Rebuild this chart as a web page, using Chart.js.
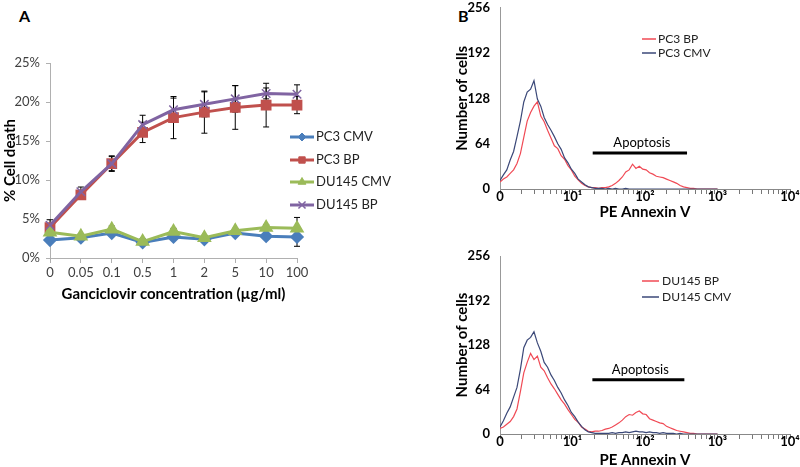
<!DOCTYPE html>
<html>
<head>
<meta charset="utf-8">
<script src="https://cdn.jsdelivr.net/npm/chart.js@4.4.1/dist/chart.umd.min.js"></script>
<style>
  body { margin: 0; background: #fff; width: 800px; height: 467px; overflow: hidden; position: relative; font-family: Lato, sans-serif; }
  .panel { position: absolute; }
  .tag { position: absolute; font: bold 16px Lato, sans-serif; line-height: 16px; color: #000; }
</style>
</head>
<body>
<div class="tag" style="left:19px;top:8px">A</div>
<div class="tag" style="left:458px;top:8px">B</div>
<div class="panel" style="left:0;top:0"><canvas id="chartA" width="440" height="467"></canvas></div>
<div class="panel" style="left:440px;top:-10px"><canvas id="chartB1" width="360" height="240"></canvas></div>
<div class="panel" style="left:440px;top:230px"><canvas id="chartB2" width="360" height="260"></canvas></div>
<script>
// ---- panel A: % cell death vs ganciclovir ----
const concentrations = ["0", "0.05", "0.1", "0.5", "1", "2", "5", "10", "100"];
const pc3Cmv = [2.3, 2.6, 3.2, 2.0, 2.7, 2.4, 3.2, 2.8, 2.7];
const pc3Bp = [3.9, 8.1, 12.1, 16.1, 18.0, 18.7, 19.3, 19.6, 19.6];
const du145Cmv = [3.3, 2.8, 3.7, 2.1, 3.4, 2.6, 3.5, 3.9, 3.8];
const du145Bp = [4.2, 8.5, 12.1, 17.1, 19.0, 19.7, 20.4, 21.1, 21.0];
const pc3CmvErr = [0.3, 0.3, 0.3, 0.2, 0.3, 0.3, 0.3, 0.4, 1.2];
const pc3BpErr = [0.4, 0.5, 0.9, 1.3, 2.7, 2.7, 2.8, 2.8, 1.1];
const du145CmvErr = [0.3, 0.3, 0.4, 0.3, 0.4, 0.3, 0.3, 0.4, 1.4];
const du145BpErr = [0.7, 0.6, 1.0, 1.2, 1.5, 1.6, 1.7, 0.7, 1.2];

// ---- panel B: flow cytometry histograms (log channels, 64 per decade) ----
const channels = [
  0, 3, 6, 9, 12, 15, 18, 21, 24, 27, 30, 33, 36, 39, 42, 45, 48, 51, 54, 57,
  60, 63, 66, 69, 72, 75, 78, 81, 84, 87, 90, 93, 96, 99, 102, 105, 108, 111, 114, 117,
  120, 123, 126, 129, 132, 135, 138, 141, 144, 147, 150, 153, 156, 159, 162, 165, 168, 171, 174, 177,
  180, 183, 186, 189, 192,
];
const pc3BpCounts = [
  10, 14, 17, 22, 27, 36, 50, 73, 96, 108, 117, 123, 103, 95, 83, 72, 61, 57, 47, 42,
  33, 27, 18, 13, 8, 5, 3, 2, 2, 1, 2, 2, 3, 5, 8, 12, 17, 24, 27, 35,
  29, 32, 28, 27, 23, 21, 18, 17, 16, 14, 12, 10, 8, 5, 3, 2, 1, 1, 0, 0,
  0, 0, 0, 0, 0,
];
const pc3CmvCounts = [
  12, 20, 27, 41, 53, 74, 96, 123, 137, 141, 153, 127, 117, 101, 91, 83, 74, 64, 56, 44,
  37, 28, 22, 14, 10, 6, 3, 2, 1, 1, 1, 0, 1, 0, 1, 0, 0, 1, 0, 0,
  0, 0, 0, 0, 0, 0, 0, 0, 0, 0, 0, 0, 0, 0, 0, 0, 0, 0, 0, 0,
  0, 0, 0, 0, 0,
];
const du145BpCounts = [
  8, 10, 14, 18, 25, 36, 61, 88, 103, 116, 107, 112, 96, 91, 81, 72, 65, 57, 49, 43,
  35, 28, 21, 17, 10, 7, 4, 3, 4, 4, 5, 7, 8, 10, 13, 16, 20, 25, 28, 27,
  31, 33, 29, 28, 22, 20, 18, 16, 15, 11, 9, 7, 5, 4, 3, 2, 1, 1, 0, 0,
  0, 0, 0, 0, 0,
];
const du145CmvCounts = [
  10, 19, 30, 39, 53, 67, 93, 124, 135, 139, 147, 131, 119, 103, 96, 85, 77, 67, 59, 49,
  41, 31, 25, 17, 11, 6, 3, 2, 1, 1, 1, 1, 1, 2, 1, 2, 2, 3, 2, 3,
  4, 3, 3, 2, 3, 2, 2, 1, 2, 1, 1, 1, 0, 1, 0, 0, 0, 0, 0, 0,
  0, 0, 0, 0, 0,
];
const decadeLabels = ["0", "10\u00b9", "10\u00b2", "10\u00b3", "10\u2074"];
const gatePc3 = { from: 19, to: 380, count: 51 };
const gateDu145 = { from: 18.8, to: 349, count: 78 };

const FONT = "Lato, sans-serif";

function histPoints(counts) {
  return channels.map((ch, i) => ({ x: Math.pow(10, ch / 64), y: counts[i] }));
}

const errorBars = {
  id: "errorBars",
  beforeDatasetsDraw(chart) {
    const ctx = chart.ctx;
    const xs = chart.scales.x, ys = chart.scales.y;
    ctx.save();
    ctx.strokeStyle = "#000";
    ctx.lineWidth = 1;
    chart.data.datasets.forEach((ds) => {
      if (!ds.errors) return;
      ds.data.forEach((v, i) => {
        const px = xs.getPixelForValue(i);
        const top = ys.getPixelForValue(v + ds.errors[i]);
        const bot = ys.getPixelForValue(v - ds.errors[i]);
        ctx.beginPath();
        ctx.moveTo(px, top); ctx.lineTo(px, bot);
        ctx.moveTo(px - 3, top); ctx.lineTo(px + 3, top);
        ctx.moveTo(px - 3, bot); ctx.lineTo(px + 3, bot);
        ctx.stroke();
      });
    });
    ctx.restore();
  },
};

// legend drawn at fixed spot, colours taken from the datasets
function placedLegend(entries, x0, x1, textX, fontSize, markers) {
  return {
    id: "placedLegend",
    afterDraw(chart) {
      const ctx = chart.ctx;
      ctx.save();
      entries.forEach((e) => {
        const ds = chart.data.datasets[e.ds];
        ctx.strokeStyle = ds.borderColor;
        ctx.lineWidth = markers ? 3 : 1.5;
        ctx.beginPath();
        ctx.moveTo(x0, e.y);
        ctx.lineTo(x1, e.y);
        ctx.stroke();
        if (markers) {
          ctx.fillStyle = ds.borderColor;
          ctx.lineWidth = ds.pointBorderWidth || 1;
          Chart.helpers.drawPoint(ctx, {
            pointStyle: ds.pointStyle,
            radius: ds.pointRadius - 1,
            borderWidth: ds.pointBorderWidth || 1,
            rotation: 0,
          }, (x0 + x1) / 2, e.y);
        }
        ctx.fillStyle = "#222";
        ctx.font = fontSize + "px " + FONT;
        ctx.textAlign = "left";
        ctx.textBaseline = "middle";
        ctx.fillText(ds.label, textX, e.y);
      });
      ctx.restore();
    },
  };
}

const gateLabel = {
  id: "gateLabel",
  afterDatasetsDraw(chart) {
    const ds = chart.data.datasets[2];
    const xs = chart.scales.x, ys = chart.scales.y;
    const a = xs.getPixelForValue(ds.data[0].x);
    const b = xs.getPixelForValue(ds.data[1].x);
    const y = ys.getPixelForValue(ds.data[0].y);
    const ctx = chart.ctx;
    ctx.save();
    ctx.fillStyle = "#000";
    ctx.font = "13px " + FONT;
    ctx.textAlign = "center";
    ctx.textBaseline = "middle";
    ctx.fillText("Apoptosis", (a + b) / 2 + 2, y - 10);
    ctx.restore();
  },
};

new Chart("chartA", {
  type: "line",
  data: {
    labels: concentrations,
    datasets: [
      {
        label: "PC3 CMV", data: pc3Cmv, errors: pc3CmvErr, order: 3,
        borderColor: "#4a7ebb", backgroundColor: "#4a7ebb", pointBackgroundColor: "#4a7ebb",
        borderWidth: 3, pointStyle: "rectRot", pointRadius: 5,
      },
      {
        label: "PC3 BP", data: pc3Bp, errors: pc3BpErr, order: 2,
        borderColor: "#c0504d", backgroundColor: "#c0504d", pointBackgroundColor: "#c0504d",
        borderWidth: 3, pointStyle: "rect", pointRadius: 5.5,
      },
      {
        label: "DU145 CMV", data: du145Cmv, errors: du145CmvErr, order: 1,
        borderColor: "#9bbb59", backgroundColor: "#9bbb59", pointBackgroundColor: "#9bbb59",
        borderWidth: 3, pointStyle: "triangle", pointRadius: 5.5,
      },
      {
        label: "DU145 BP", data: du145Bp, errors: du145BpErr, order: 0,
        borderColor: "#8064a2", backgroundColor: "#8064a2", pointBackgroundColor: "#8064a2",
        borderWidth: 3, pointStyle: "crossRot", pointRadius: 6, pointBorderWidth: 1.5,
      },
    ],
  },
  options: {
    responsive: false,
    animation: false,
    layout: { padding: { left: 0, top: 63, right: 143, bottom: 159 } },
    plugins: { legend: { display: false }, tooltip: { enabled: false } },
    scales: {
      x: {
        offset: false,
        afterFit: (s) => { s.height = 50; },
        border: { color: "#b0b0b0" },
        grid: { drawOnChartArea: false, tickLength: 5, color: "#b0b0b0" },
        ticks: { padding: 2, maxRotation: 0, color: "#404040", font: { family: FONT, size: 13 } },
        title: {
          display: true, text: "Ganciclovir concentration (\u00b5g/ml)", color: "#000",
          font: { family: FONT, size: 15, weight: "bold" }, padding: { top: 0, bottom: 5 },
        },
      },
      y: {
        min: 0, max: 25,
        afterFit: (s) => { s.width = 50; },
        border: { color: "#b0b0b0" },
        grid: { drawOnChartArea: false, tickLength: 4, color: "#b0b0b0" },
        ticks: {
          stepSize: 5, padding: 6, color: "#404040", font: { family: FONT, size: 13 },
          callback: (v) => v + "%",
        },
        title: {
          display: true, text: "% Cell death", color: "#000",
          font: { family: FONT, size: 15, weight: "bold" }, padding: { top: 1, bottom: 0 },
        },
      },
    },
  },
  plugins: [
    errorBars,
    placedLegend(
      [{ ds: 0, y: 137 }, { ds: 1, y: 160 }, { ds: 2, y: 182 }, { ds: 3, y: 205 }],
      290, 314, 316, 13, true
    ),
  ],
});

function histogram(id, bp, cmv, gate, box, legendEntries, legendLine, legendTextX) {
  return new Chart(id, {
    type: "line",
    data: {
      datasets: [
        {
          label: bp.label, data: histPoints(bp.counts), order: 1,
          borderColor: "#f04a55", borderWidth: 1.2, pointRadius: 0, tension: 0,
        },
        {
          label: cmv.label, data: histPoints(cmv.counts), order: 0,
          borderColor: "#3b4878", borderWidth: 1.2, pointRadius: 0, tension: 0,
        },
        {
          label: "gate", data: [{ x: gate.from, y: gate.count }, { x: gate.to, y: gate.count }],
          order: 0, borderColor: "#000", borderWidth: 3, pointRadius: 0,
        },
      ],
    },
    options: {
      responsive: false,
      animation: false,
      layout: { padding: { left: 0, top: box.top, right: 10, bottom: box.bottom } },
      plugins: { legend: { display: false }, tooltip: { enabled: false } },
      scales: {
        x: {
          type: "logarithmic", min: 1, max: 10000,
          afterFit: (s) => { s.height = box.axisH; },
          afterBuildTicks: (s) => {
            s.ticks = s.ticks.filter((t) => {
              const m = t.value / Math.pow(10, Math.floor(Math.log10(t.value) + 1e-9));
              return Math.abs(m - Math.round(m)) < 1e-6;
            });
          },
          border: { color: "#888" },
          grid: { drawOnChartArea: false, tickLength: 5, color: "#777" },
          ticks: {
            autoSkip: false, maxRotation: 0, padding: -4, color: "#000",
            font: { family: FONT, size: 13, weight: "bold", lineHeight: 1.1 },
            callback: (v) => {
              const p = Math.log10(v);
              return Math.abs(p - Math.round(p)) < 1e-9 ? decadeLabels[Math.round(p)] : "";
            },
          },
          title: {
            display: true, text: "PE Annexin V", color: "#000",
            font: { family: FONT, size: 15, weight: "bold" }, padding: { top: 0, bottom: 2 },
          },
        },
        y: {
          min: 0, max: 256,
          afterFit: (s) => { s.width = 60; },
          border: { color: "#999" },
          grid: { display: false, drawTicks: false },
          ticks: {
            stepSize: 64, padding: 10, color: "#000",
            font: { family: FONT, size: 13, weight: "bold" },
          },
          title: {
            display: true, text: "Number of cells", color: "#000",
            font: { family: FONT, size: 15, weight: "bold" }, padding: { top: 13, bottom: 0 },
          },
        },
      },
    },
    plugins: [gateLabel, placedLegend(legendEntries, legendLine[0], legendLine[1], legendTextX, 12, false)],
  });
}

histogram(
  "chartB1",
  { label: "PC3 BP", counts: pc3BpCounts },
  { label: "PC3 CMV", counts: pc3CmvCounts },
  gatePc3,
  { top: 14, bottom: 7, axisH: 34 },
  [{ ds: 0, y: 49 }, { ds: 1, y: 63 }], [202, 216], 218
);

histogram(
  "chartB2",
  { label: "DU145 BP", counts: du145BpCounts },
  { label: "DU145 CMV", counts: du145CmvCounts },
  gateDu145,
  { top: 26, bottom: 19, axisH: 37 },
  [{ ds: 0, y: 51 }, { ds: 1, y: 67 }], [202, 219], 222
);
</script>
</body>
</html>
